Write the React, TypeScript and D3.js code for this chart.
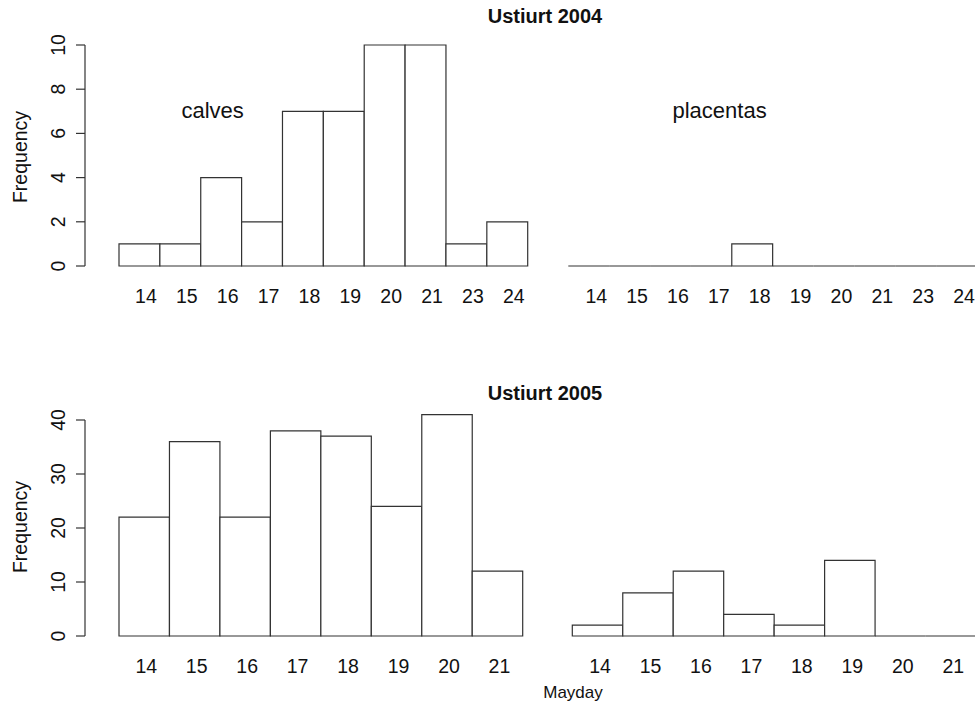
import React from "react";
import * as d3 from "d3";

// Mayday categories for each year
const days2004 = ["14", "15", "16", "17", "18", "19", "20", "21", "23", "24"];
const days2005 = ["14", "15", "16", "17", "18", "19", "20", "21"];

// Frequencies
const calves2004 = [1, 1, 4, 2, 7, 7, 10, 10, 1, 2];
const placentas2004 = [0, 0, 0, 0, 1, 0, 0, 0, 0, 0];
const calves2005 = [22, 36, 22, 38, 37, 24, 41, 12];
const placentas2005 = [2, 8, 12, 4, 2, 14, 0, 0];

// Y-axis ticks
const ticks2004 = [0, 2, 4, 6, 8, 10];
const ticks2005 = [0, 10, 20, 30, 40];

const FONT = "'Liberation Sans', Arial, Helvetica, sans-serif";
const INK = "#333";

type PanelProps = {
  cats: string[];
  values: number[];
  x0: number;
  x1: number;
  y: d3.ScaleLinear<number, number>;
  labelY: number;
  labelShift: number;
};

function Bars({ cats, values, x0, x1, y, labelY, labelShift }: PanelProps) {
  const x = d3.scaleBand<string>().domain(cats).range([x0, x1]).padding(0);
  const base = y(0);
  return (
    <g>
      {cats.map((c, i) => {
        const left = x(c)!;
        const right = left + x.bandwidth();
        const top = y(values[i]);
        const p = d3.path();
        p.moveTo(left, base);
        p.lineTo(left, top);
        p.lineTo(right, top);
        p.lineTo(right, base);
        p.closePath();
        return (
          <path key={"b" + c} d={p.toString()} fill="#fff" stroke={INK} strokeWidth={1.2} />
        );
      })}
      {cats.map((c) => (
        <text
          key={"t" + c}
          x={x(c)! + x.bandwidth() / 2 + labelShift}
          y={labelY}
          textAnchor="middle"
          fontSize={19.5}
          fill="#111"
        >
          {c}
        </text>
      ))}
    </g>
  );
}

function YAxis({ y, ticks, axisX, labelCenterY }: { y: d3.ScaleLinear<number, number>; ticks: number[]; axisX: number; labelCenterY: number }) {
  const [lo, hi] = d3.extent(ticks) as [number, number];
  return (
    <g>
      <line x1={axisX} x2={axisX} y1={y(lo)} y2={y(hi)} stroke={INK} strokeWidth={1.2} />
      {ticks.map((t) => (
        <g key={t}>
          <line x1={axisX - 9} x2={axisX} y1={y(t)} y2={y(t)} stroke={INK} strokeWidth={1.2} />
          <text
            transform={`translate(${axisX - 20},${y(t)}) rotate(-90)`}
            textAnchor="middle"
            fontSize={19.5}
            fill="#111"
          >
            {t}
          </text>
        </g>
      ))}
      <text
        transform={`translate(27,${labelCenterY}) rotate(-90)`}
        textAnchor="middle"
        fontSize={19.5}
        fill="#111"
      >
        Frequency
      </text>
    </g>
  );
}

export default function App() {
  const yTop = d3.scaleLinear().domain([0, 10]).range([266, 45]);
  const yBottom = d3.scaleLinear().domain([0, 40]).range([636, 420]);

  return (
    <svg
      width={975}
      height={704}
      style={{ position: "absolute", left: 0, top: 0, background: "#fff" }}
      fontFamily={FONT}
    >
      <rect x={0} y={0} width={975} height={704} fill="#fff" />

      {/* 2004 */}
      <text x={545} y={23} textAnchor="middle" fontSize={20} fontWeight="bold" fill="#111">
        Ustiurt 2004
      </text>
      <YAxis y={yTop} ticks={ticks2004} axisX={85} labelCenterY={157} />
      <Bars cats={days2004} values={calves2004} x0={119} x1={527.7} y={yTop} labelY={303} labelShift={6.5} />
      <Bars cats={days2004} values={placentas2004} x0={568.3} x1={977} y={yTop} labelY={303} labelShift={7.5} />
      <text x={181.5} y={118} fontSize={22} fill="#111">calves</text>
      <text x={672.5} y={118} fontSize={22} fill="#111">placentas</text>

      {/* 2005 */}
      <text x={545} y={400} textAnchor="middle" fontSize={20} fontWeight="bold" fill="#111">
        Ustiurt 2005
      </text>
      <YAxis y={yBottom} ticks={ticks2005} axisX={85} labelCenterY={527} />
      <Bars cats={days2005} values={calves2005} x0={119} x1={522.7} y={yBottom} labelY={673} labelShift={2} />
      <Bars cats={days2005} values={placentas2005} x0={572.3} x1={976} y={yBottom} labelY={673} labelShift={2.5} />

      <text x={573} y={698} textAnchor="middle" fontSize={17} fill="#111">Mayday</text>
    </svg>
  );
}
